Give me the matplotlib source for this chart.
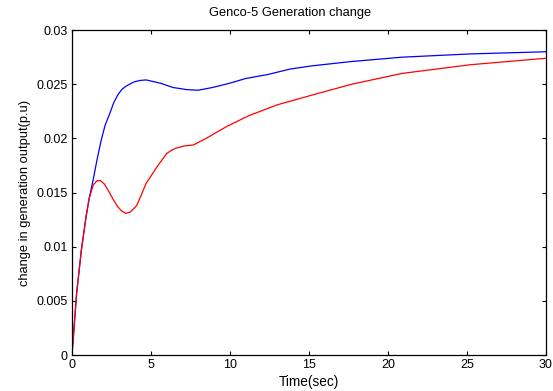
import matplotlib
matplotlib.use('Agg')
import matplotlib.pyplot as plt

plt.rcParams['font.family'] = ['Liberation Sans', 'DejaVu Sans']

# values (time in sec, output change in p.u.)
t_blue = [0, 0.1, 0.3, 0.6, 0.9, 1.1, 1.35, 1.6, 1.85, 2.1, 2.4, 2.65, 2.9,
          3.15, 3.4, 3.9, 4.3, 4.7, 5.6, 6.4, 7.3, 8.0, 8.9, 10, 11, 12.4,
          13.8, 15.2, 17.7, 20.9, 25.2, 30]
y_blue = [0, 0.0018, 0.0057, 0.0097, 0.0128, 0.0145, 0.0162, 0.0181, 0.0198,
          0.0212, 0.0223, 0.0233, 0.0240, 0.0245, 0.0248, 0.0252, 0.02535,
          0.0254, 0.0251, 0.0247, 0.0245, 0.02445, 0.0247, 0.0251, 0.02553,
          0.0259, 0.0264, 0.0267, 0.0271, 0.0275, 0.0278, 0.0280]

t_red = [0, 0.1, 0.3, 0.6, 0.9, 1.1, 1.35, 1.6, 1.8, 2.05, 2.3, 2.6, 2.9,
         3.15, 3.4, 3.7, 4.1, 4.4, 4.7, 5.4, 6.0, 6.3, 6.6, 7.1, 7.7, 8.5,
         9.2, 9.8, 11.2, 13, 15.2, 17.7, 20.9, 25.2, 30]
y_red = [0, 0.0018, 0.0057, 0.0097, 0.0128, 0.0145, 0.0157, 0.0161, 0.0161,
         0.0158, 0.0152, 0.0144, 0.0137, 0.0133, 0.01308, 0.0132, 0.0138,
         0.0148, 0.01585, 0.0174, 0.0186, 0.0189, 0.0191, 0.0193, 0.0194,
         0.0200, 0.0206, 0.0211, 0.0221, 0.0231, 0.0240, 0.0250, 0.0260,
         0.0268, 0.0274]

xticks = [0, 5, 10, 15, 20, 25, 30]
yticks = [0, 0.005, 0.01, 0.015, 0.02, 0.025, 0.03]
ytick_labels = ['0', '0.005', '0.01', '0.015', '0.02', '0.025', '0.03']

fig = plt.figure(figsize=(5.53, 3.91), dpi=100)
ax = fig.add_axes([0.130, 0.092, 0.857, 0.831])

ax.plot(t_blue, y_blue, color='blue', lw=0.9)
ax.plot(t_red, y_red, color='red', lw=0.9)

ax.set_xlim(0, 30)
ax.set_ylim(0, 0.03)
ax.set_xticks(xticks)
ax.set_xticklabels([str(v) for v in xticks])
ax.set_yticks(yticks)
ax.set_yticklabels(ytick_labels)
ax.tick_params(direction='in', top=True, right=True, length=3, width=0.8,
               labelsize=9, pad=3)
for s in ax.spines.values():
    s.set_linewidth(0.9)

ax.set_title('Genco-5 Generation change', fontsize=9.3, pad=10, x=0.46)
ax.set_xlabel('Time(sec)', fontsize=9.8, labelpad=3)
ax.set_ylabel('change in generation output(p.u)', fontsize=9.3, labelpad=4)

fig.savefig('out.png', dpi=100)
